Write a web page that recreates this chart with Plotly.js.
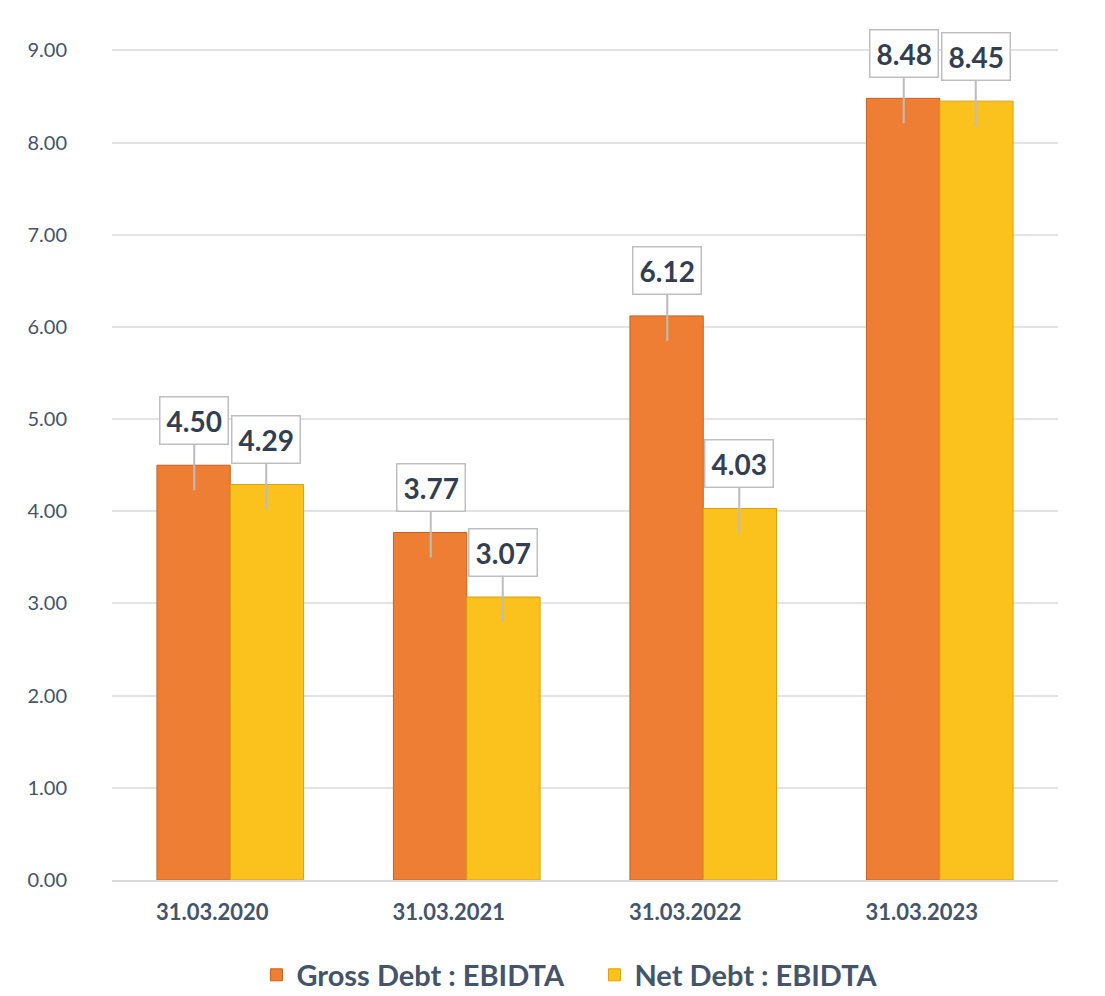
<!DOCTYPE html>
<html>
<head>
<meta charset="utf-8">
<script src="https://cdn.plot.ly/plotly-3.0.1.min.js"></script>
<style>html,body{margin:0;padding:0;background:#fff;}#chart{width:1105px;height:996px;}</style>
</head>
<body>
<div id="chart"></div>
<script>
const categories = ["31.03.2020", "31.03.2021", "31.03.2022", "31.03.2023"];
const grossDebt = [4.50, 3.77, 6.12, 8.48];
const netDebt = [4.29, 3.07, 4.03, 8.45];
const seriesNames = ["Gross Debt : EBIDTA", "Net Debt : EBIDTA"];
const yTicks = [0, 1, 2, 3, 4, 5, 6, 7, 8, 9];

const txtColor = "#44546A";
const font = "Lato, 'Open Sans', sans-serif";

const traces = [
  {type: "bar", name: seriesNames[0], x: categories, y: grossDebt,
   marker: {color: "#EF7E35", line: {color: "#C9601F", width: 1}}, hoverinfo: "y"},
  {type: "bar", name: seriesNames[1], x: categories, y: netDebt,
   marker: {color: "#FBC21E", line: {color: "#D9A10A", width: 1}}, hoverinfo: "y"}
];

const annotations = [];
function addCallouts(vals, shift) {
  vals.forEach((v, i) => {
    annotations.push({
      x: categories[i], y: v, xref: "x", yref: "y", xshift: shift,
      yshift: -25,
      text: "<b>" + v.toFixed(2) + "</b>",
      showarrow: true, arrowhead: 0, arrowwidth: 2, arrowcolor: "#BDBDBD",
      ax: 0, ay: -70,
      bgcolor: "#FFFFFF", bordercolor: "#BFBFBF", borderwidth: 1.5, borderpad: 6,
      font: {family: font, size: 28, color: "#333F50"}
    });
  });
}
addCallouts(grossDebt, -36);
addCallouts(netDebt, 36);

const layout = {
  width: 1105, height: 996,
  margin: {l: 112, r: 47, t: 32, b: 116, autoexpand: false},
  paper_bgcolor: "#fff", plot_bgcolor: "#fff",
  barmode: "group", bargap: 0.38, bargroupgap: 0,
  showlegend: true,
  legend: {orientation: "h", x: 0.51, xanchor: "center", y: -0.112, yanchor: "middle",
           font: {family: font, size: 29, color: txtColor, weight: "bold"},
           itemwidth: 30, entrywidth: 293, entrywidthmode: "pixels"},
  xaxis: {
    type: "category", showgrid: false, zeroline: false,
    showline: true, linecolor: "#D9D9D9", linewidth: 2,
    ticks: "", tickfont: {family: font, size: 22, color: txtColor, weight: "bold"},
    ticklabelstandoff: 12, ticklabelshift: -18
  },
  yaxis: {
    range: [0, 9.2], tickvals: yTicks, ticktext: yTicks.map(v => v.toFixed(2)),
    showgrid: true, gridcolor: "#E3E3E3", gridwidth: 2, zeroline: false,
    showline: false, ticks: "",
    tickfont: {family: font, size: 20, color: txtColor}, ticklabelstandoff: 44
  },
  annotations: annotations
};

Plotly.newPlot("chart", traces, layout, {displayModeBar: false, staticPlot: true});
</script>
</body>
</html>
